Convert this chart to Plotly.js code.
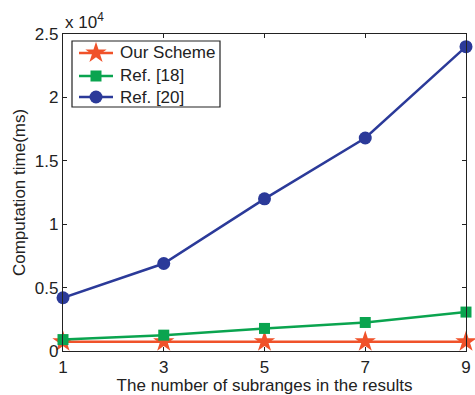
<!DOCTYPE html>
<html>
<head>
<meta charset="utf-8">
<script src="https://cdn.plot.ly/plotly-3.0.1.min.js"></script>
<style>
  html, body { margin: 0; padding: 0; background: #fff; }
  #chart { width: 475px; height: 395px; }
</style>
</head>
<body>
<div id="chart"></div>
<script>
// Number of subranges in the results
const subranges = [1, 3, 5, 7, 9];

// Computation time (ms) for each scheme
const ourScheme = [730, 730, 730, 730, 730];
const ref18 = [900, 1250, 1780, 2250, 3070];
const ref20 = [4200, 6900, 12000, 16800, 24000];

// Series names, colours and marker shapes
const seriesNames = ['Our Scheme', 'Ref. [18]', 'Ref. [20]'];
const seriesColors = ['#f0522a', '#0aa44f', '#2b3a99'];
const seriesSymbols = ['star', 'square', 'circle'];
const seriesSizes = [16, 11, 13];

// Y tick values and their labels (scaled by 10^4)
const yTickVals = [0, 5000, 10000, 15000, 20000, 25000];
const yTickText = ['0', '0.5', '1', '1.5', '2', '2.5'];

const FONT = 'Liberation Sans, Arial, Helvetica, sans-serif';
const FS = 17;
const W = 475, H = 395;
const M = { l: 63, r: 9, t: 34, b: 44 };

// pixel -> paper coordinates (used for the hand-drawn legend box)
const px = v => (v - M.l) / (W - M.l - M.r);
const py = v => (H - M.b - v) / (H - M.t - M.b);

const dataSeries = [ourScheme, ref18, ref20];
const traces = dataSeries.map((ys, i) => ({
  x: subranges, y: ys, name: seriesNames[i],
  mode: 'lines+markers', cliponaxis: false, showlegend: false,
  line: { color: seriesColors[i], width: 2.5 },
  marker: { symbol: seriesSymbols[i], size: seriesSizes[i], color: seriesColors[i] }
}));

// Legend: box, line samples, markers and labels
const legBox = { x0: 72, x1: 220, y0: 41, y1: 107 };
const legRows = [53, 76, 97];
const legLine = { x0: 79, x1: 113, mid: 96 };
const legTextX = 118;

const shapes = [
  {
    type: 'rect', xref: 'paper', yref: 'paper',
    x0: px(legBox.x0), x1: px(legBox.x1), y0: py(legBox.y1), y1: py(legBox.y0),
    line: { color: '#222', width: 1.2 }, fillcolor: '#fff', layer: 'below'
  }
];
const annotations = [
  {
    xref: 'paper', yref: 'paper', x: 0, y: 1, xanchor: 'left', yanchor: 'bottom',
    text: 'x 10<sup>4</sup>', showarrow: false,
    font: { family: FONT, size: FS, color: '#222' }
  }
];
seriesNames.forEach((name, i) => {
  shapes.push({
    type: 'line', xref: 'paper', yref: 'paper', layer: 'below',
    x0: px(legLine.x0), x1: px(legLine.x1), y0: py(legRows[i]), y1: py(legRows[i]),
    line: { color: seriesColors[i], width: 2.5 }
  });
  annotations.push({
    xref: 'paper', yref: 'paper', x: px(legTextX), y: py(legRows[i]),
    xanchor: 'left', yanchor: 'middle', text: name, showarrow: false,
    font: { family: FONT, size: FS, color: '#222' }
  });
  traces.push({
    x: [legLine.mid], y: [legRows[i]], xaxis: 'x2', yaxis: 'y2',
    mode: 'markers', showlegend: false, cliponaxis: false, hoverinfo: 'skip',
    marker: { symbol: seriesSymbols[i], size: seriesSizes[i], color: seriesColors[i] }
  });
});

const axisCommon = {
  showline: true, linecolor: '#222', linewidth: 1.2,
  mirror: 'ticks', ticks: 'inside', ticklen: 4, tickcolor: '#222',
  showgrid: false, zeroline: false,
  tickfont: { family: FONT, size: FS, color: '#222' }
};

const layout = {
  width: W, height: H,
  margin: M,
  paper_bgcolor: '#fff', plot_bgcolor: '#fff',
  font: { family: FONT, color: '#222' },
  showlegend: false,
  xaxis: Object.assign({}, axisCommon, {
    range: [1, 9],
    tickvals: subranges,
    title: { text: 'The number of subranges in the results', font: { family: FONT, size: FS, color: '#222' }, standoff: 0 }
  }),
  yaxis: Object.assign({}, axisCommon, {
    range: [0, 25000],
    tickvals: yTickVals, ticktext: yTickText,
    title: { text: 'Computation time(ms)', font: { family: FONT, size: FS, color: '#222' }, standoff: 4 }
  }),
  // pixel-space overlay axes for the legend markers
  xaxis2: { overlaying: 'x', range: [M.l, W - M.r], visible: false, fixedrange: true },
  yaxis2: { overlaying: 'y', range: [H - M.b, M.t], visible: false, fixedrange: true },
  shapes: shapes,
  annotations: annotations
};

Plotly.newPlot('chart', traces, layout, { displayModeBar: false, staticPlot: true });
</script>
</body>
</html>
